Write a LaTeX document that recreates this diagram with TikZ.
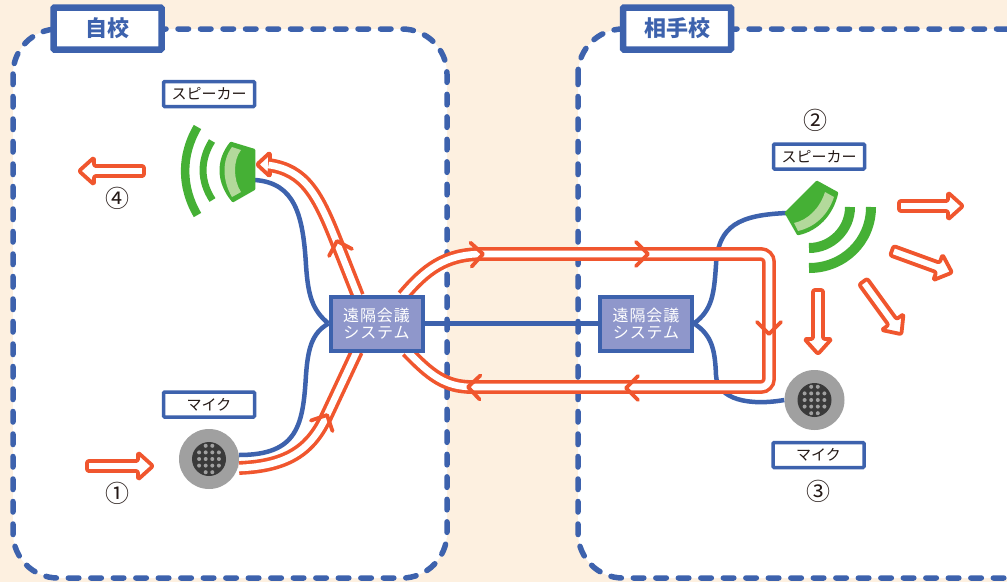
\documentclass[tikz,border=0pt]{standalone}
\usepackage{fontspec}
\newfontfamily\cjk{Noto Sans CJK JP}
\usepackage{xcolor}
\usetikzlibrary{backgrounds, calc}

\definecolor{pagetint}{HTML}{FDF0E0}
\definecolor{linkblue}{HTML}{3D62AD}
\definecolor{sysfill}{HTML}{8F97CB}
\definecolor{soundred}{HTML}{F0562E}
\definecolor{spkgreen}{HTML}{45B035}
\definecolor{spklight}{HTML}{B3D99B}
\definecolor{micgray}{HTML}{A0A0A0}
\definecolor{micdark}{HTML}{3A3A3A}
\definecolor{inktext}{HTML}{231815}

\tikzset{
	titlebox/.style = {draw = linkblue, line width = 6.5pt, fill = white, inner sep = 0pt, minimum height = 42pt, rounded corners = 1pt, text = linkblue, font = \cjk\bfseries\fontsize{22}{22}\selectfont},
	partbox/.style = {draw = linkblue, line width = 3.5pt, fill = white, inner sep = 0pt, minimum width = 91pt, minimum height = 25pt, rounded corners = 1pt, text = inktext, font = \cjk\fontsize{15}{15}\selectfont},
	sysbox/.style = {draw = linkblue, line width = 4pt, fill = sysfill, inner sep = 0pt, minimum width = 92pt, minimum height = 54pt, align = center, text = white, font = \cjk\fontsize{16}{17.5}\selectfont\addfontfeature{LetterSpace = 6}},
	micbody/.style = {circle, fill = micgray, inner sep = 0pt, minimum size = 60pt},
	miccore/.style = {circle, fill = micdark, inner sep = 0pt, minimum size = 34pt},
	numlabel/.style = {inner sep = 0pt, text = inktext, font = \cjk\fontsize{24}{24}\selectfont},
	panel/.style = {draw = linkblue, line width = 5.5pt, fill = white, line cap = round, dash pattern = on 10.5pt off 12pt, rounded corners = 45pt},
	wire/.style = {draw = linkblue, line width = 4.5pt},
	sound/.style = {draw = soundred, line width = 3.6pt, double = white, double distance = 6.6pt},
	soundtip/.style = {draw = soundred, line width = 3.8pt, line join = round, line cap = round},
	hollow/.style = {draw = soundred, fill = white, line width = 3.8pt, line join = round, rounded corners = 2pt},
	wave/.style = {draw = spkgreen}
}

\newcommand{\chevron}[3]{\draw[soundtip, shift = {(#1,#2)}, rotate = #3] (-12,12) -- (0,0) -- (-12,-12);}
\newcommand{\hollowarrow}[4]{\draw[hollow, shift = {(#1,#2)}, rotate = #3] (2,-5) -- (#4-15,-5) -- (#4-15,-13.5) -- (#4,0) -- (#4-15,13.5) -- (#4-15,5) -- (2,5) -- cycle;}
\newcommand{\micdots}[1]{
	\foreach \i in {-1.5,-0.5,0.5,1.5} \foreach \j in {-1,0,1} \fill[micgray] ($(#1)+(\i*6.6,\j*6.6)$) circle [radius = 2];
	\foreach \i in {-0.5,0.5} \foreach \j in {-2,2} \fill[micgray] ($(#1)+(\i*6.6,\j*6.6)$) circle [radius = 2];
}

\begin{document}
\begin{tikzpicture}[x = 1pt, y = -1pt]
	\useasboundingbox (0,0) rectangle (1007,582);

	\node[titlebox, minimum width = 108pt] (titleA) at (107.5,28.5) {自校};
	\node[titlebox, minimum width = 108pt] (titleB) at (677,28.5) {相手校};

	\node[partbox] (spkAlabel) at (209,94) {スピーカー};
	\node[partbox] (micAlabel) at (209,404.5) {マイク};
	\node[partbox] (spkBlabel) at (819,156.5) {スピーカー};
	\node[partbox] (micBlabel) at (818.5,455) {マイク};

	\node[sysbox] (sysA) at (376.5,323.5) {遠隔会議\\システム};
	\node[sysbox] (sysB) at (646,323.5) {遠隔会議\\システム};

	\node[micbody] (micA) at (209,459) {};
	\node[micbody] (micB) at (814.5,400) {};
	\node[miccore] (coreA) at (micA) {};
	\node[miccore] (coreB) at (micB) {};
	\micdots{coreA}
	\micdots{coreB}

	\node[numlabel] (numA) at (117.5,493) {①};
	\node[numlabel] (numB) at (815,120) {②};
	\node[numlabel] (numC) at (818,491) {③};
	\node[numlabel] (numD) at (117.5,198) {④};

	\coordinate (spkAwire) at (255,180);
	\coordinate (spkBwire) at (787,213);
	\coordinate (micAwire) at (239,455);
	\coordinate (micAsound) at (239,468);
	\coordinate (spkAsound) at (268.5,165);
	\coordinate (sysAnw) at (358,296);
	\coordinate (sysAsw) at (357,351);
	\coordinate (sysAne) at (403,296);
	\coordinate (sysAse) at (407,351);

	\begin{scope}[on background layer]
		\fill[pagetint] (0,0) rectangle (1007,582);
		\draw[panel] (13,29) rectangle (447,578);
		\draw[panel] (578,29) rectangle (1060,578);

		\draw[wire] (sysA.west) -- (sysB.east);
		\draw[wire] (sysA.west) .. controls (312,310) and (308,295) .. (306,265) .. controls (303,215) and (295,183) .. (spkAwire);
		\draw[wire] (sysA.west) .. controls (312,333) and (308,348) .. (306,375) .. controls (303,425) and (298,455) .. (micAwire);
		\draw[wire] (sysB.east) .. controls (712,310) and (714,295) .. (716,265) .. controls (718,225) and (740,215) .. (spkBwire);
		\draw[wire] (sysB.east) .. controls (712,335) and (715,350) .. (716,375) .. controls (717,400) and (750,406) .. (micB.west);

		\draw[hollow, rounded corners = 1.5pt] (257,164.5) -- (270,152.5) -- (270,176.5) -- cycle;
		\draw[sound] (micAsound) .. controls (290,466) and (312,448) .. (327,415) -- (sysAsw);
		\draw[sound] (sysAnw) -- (337,243) .. controls (318,195) and (305,170) .. (spkAsound);
		\draw[sound, rounded corners = 8pt] (sysAne) .. controls (425,270) and (445,254) .. (490,254) -- (769,254) -- (769,387) -- (480,387) .. controls (445,387) and (430,375) .. (sysAse);
	\end{scope}

	\fill[spkgreen, draw = spkgreen, line width = 2.5pt, line join = round] (254,150) -- (231,143) .. controls (217,160) and (217,182) .. (233,201) -- (254,189) -- cycle;
	\fill[spklight] (232,147) -- (241,150) .. controls (233,160) and (233,180) .. (241,192) -- (232,197) .. controls (222,180) and (222,160) .. (232,147) -- cycle;
	\draw[wave, line width = 7pt] (212,141) .. controls (200,160) and (200,181) .. (212.5,200);
	\draw[wave, line width = 8.5pt] (197.5,127) .. controls (181,155) and (181,187) .. (197.5,215);

	\fill[spkgreen, draw = spkgreen, line width = 2.5pt, line join = round] (817,182) -- (837,193) .. controls (832,215) and (817,230) .. (798,234) -- (786,213) -- cycle;
	\fill[spklight] (825,192) -- (834,197) .. controls (828,215) and (815,227) .. (798,231) -- (794,223) .. controls (808,220) and (820,208) .. (825,192) -- cycle;
	\draw[wave, line width = 10pt] (850,207) .. controls (850,229.5) and (831.5,248) .. (809,248);
	\draw[wave, line width = 10pt] (871,207) .. controls (871,241.5) and (843.5,268) .. (809,268);

	\chevron{327}{415}{64}
	\chevron{337}{241}{107}
	\chevron{483}{254}{3}
	\chevron{648}{254}{0}
	\chevron{769}{334}{-90}
	\chevron{626}{388}{180}
	\chevron{468}{387}{178}

	\hollowarrow{85}{466}{0}{68}
	\hollowarrow{146}{171}{180}{67}
	\hollowarrow{897}{206}{0}{66}
	\hollowarrow{890}{250}{-20}{66}
	\hollowarrow{862}{280}{-54}{67}
	\hollowarrow{818}{288}{-90}{66}
\end{tikzpicture}
\end{document}
